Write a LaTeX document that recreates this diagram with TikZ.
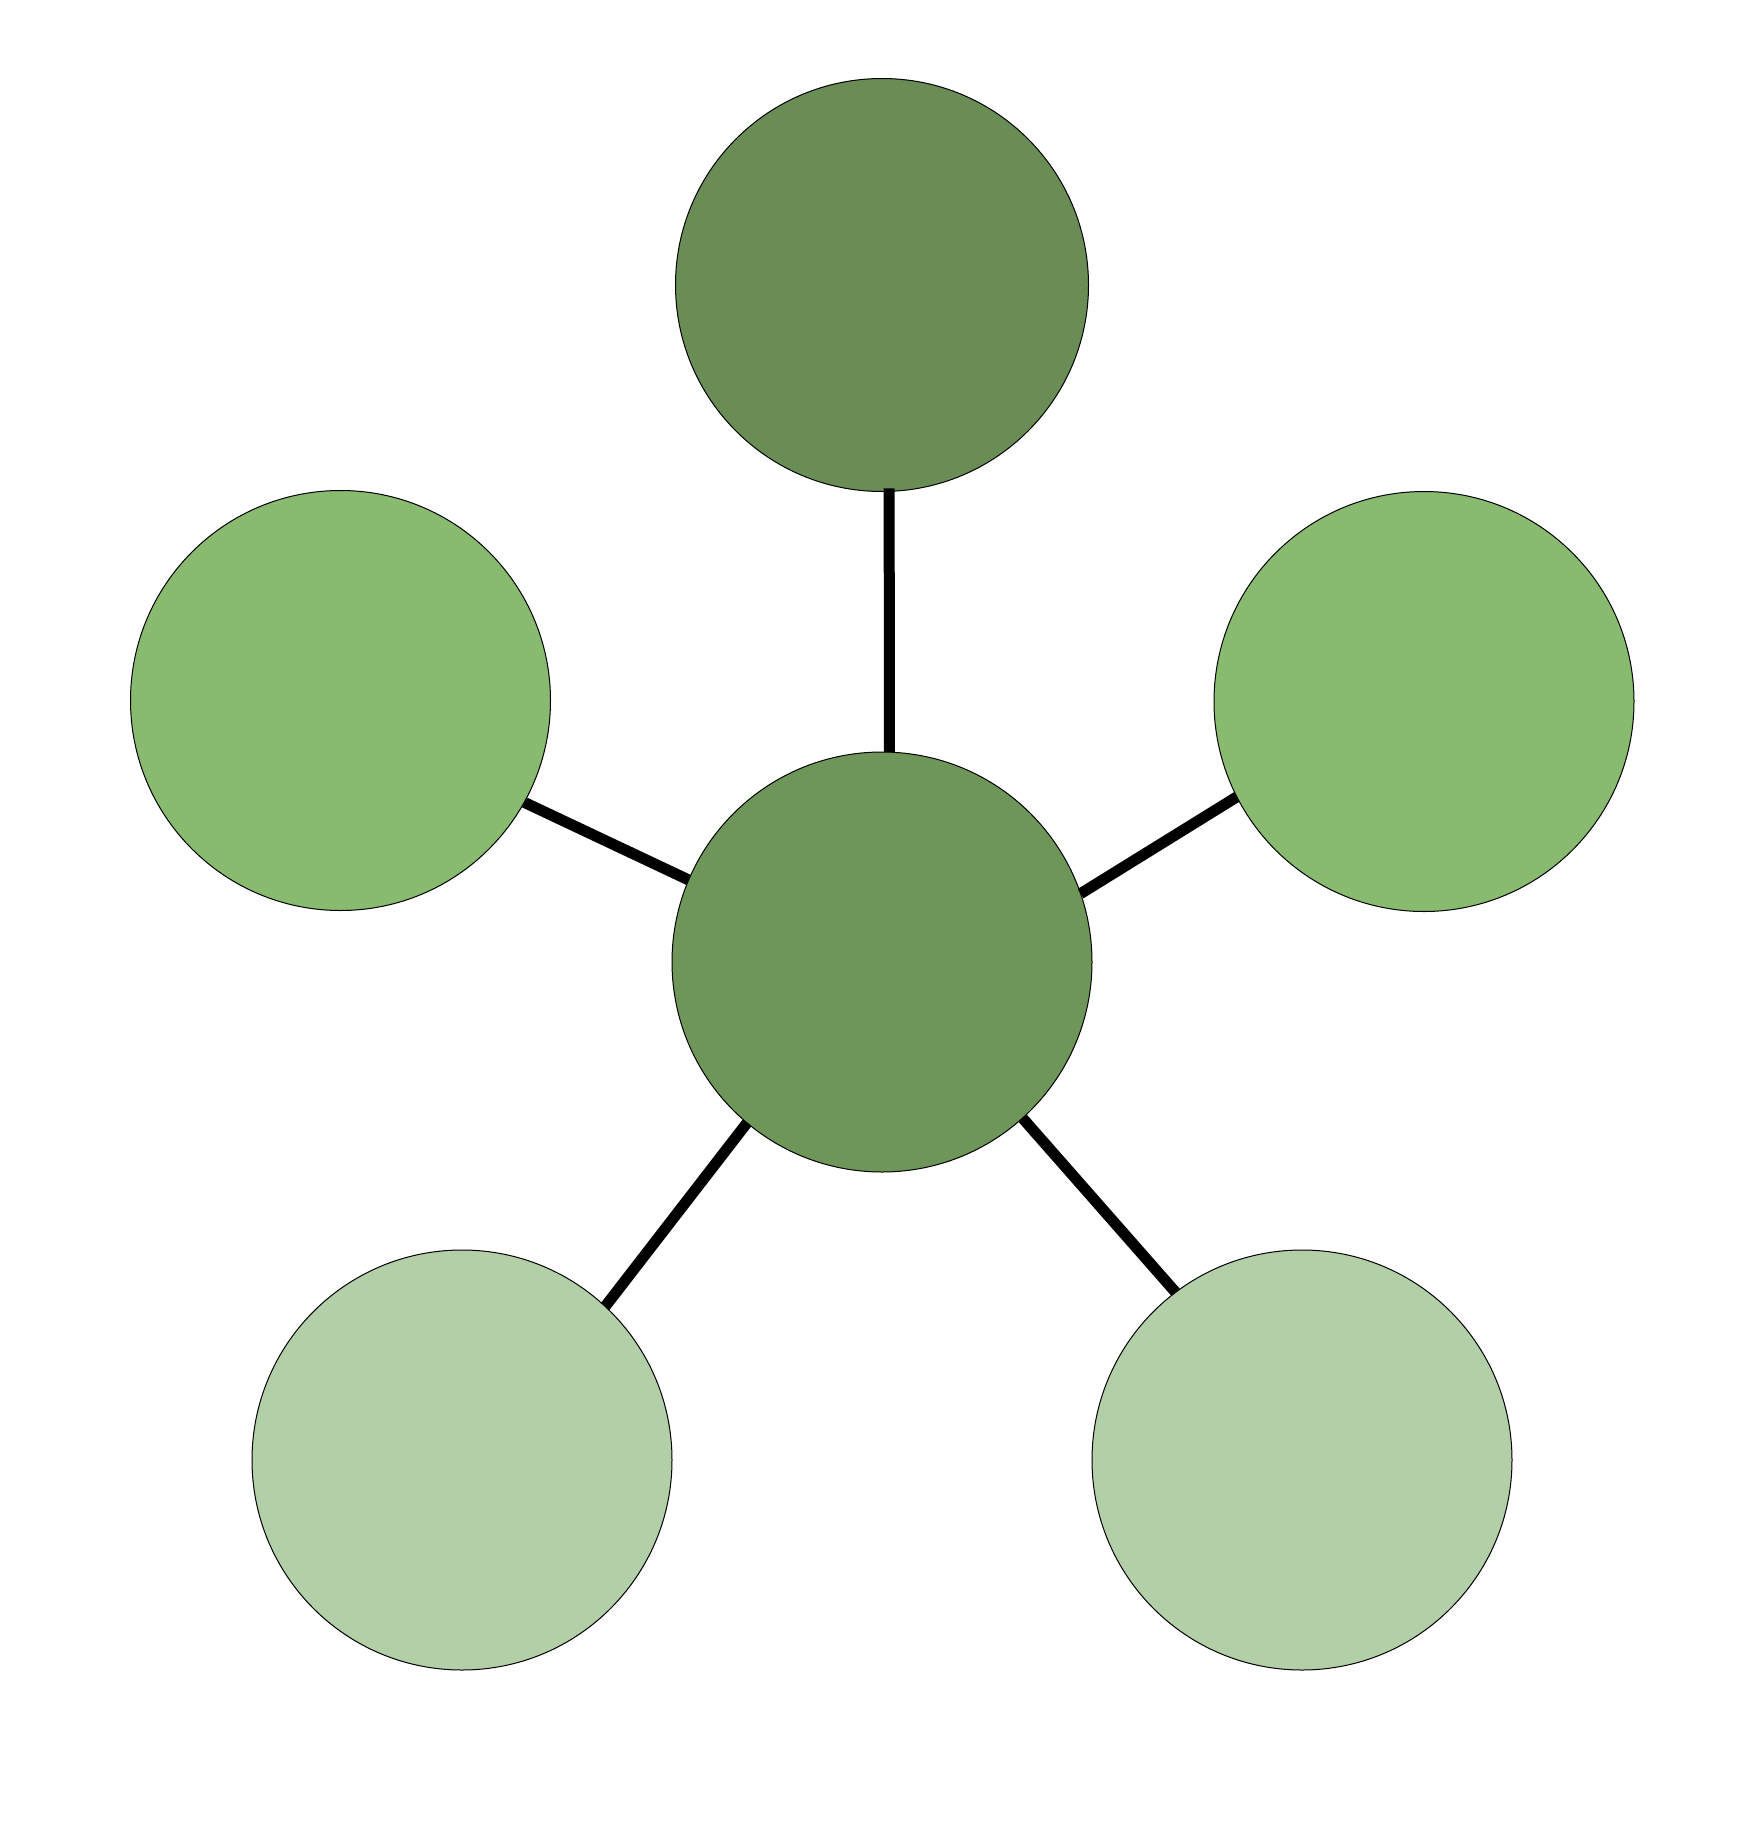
\documentclass[tikz,border=0pt]{standalone}
\definecolor{topg}{HTML}{6A8D56}
\definecolor{ceng}{HTML}{6E9658}
\definecolor{midg}{HTML}{88BA6F}
\definecolor{lightg}{HTML}{B3CFA7}
\begin{document}
\begin{tikzpicture}[x=1pt,y=-1pt,
  bub/.style={circle,draw=black,line width=1pt,minimum size=420pt,inner sep=0pt,outer sep=0pt},
  link/.style={line width=11pt,line cap=butt,draw=black}]
\useasboundingbox (0,0) rectangle (1738,1831);
\node[bub,fill=topg,minimum size=413pt] (T) at (882,285) {};
\node[bub,fill=ceng]   (C)  at (882,962)  {};
\node[bub,fill=midg]   (L)  at (340.5,700.5) {};
\node[bub,fill=midg]   (R)  at (1424,701.5) {};
\node[bub,fill=lightg] (BL) at (462,1460) {};
\node[bub,fill=lightg] (BR) at (1302,1460) {};
\draw[link] ([yshift=3pt]T.-88.6) -- (C.88.6);
\draw[link] (L.-29.9) -- (C.157.4);
\draw[link] (C.19.4) -- (R.207.9);
\draw[link] (C.230.6) -- (BL.47.2);
\draw[link] (C.-48.9) -- (BR.127.5);
\end{tikzpicture}
\end{document}
